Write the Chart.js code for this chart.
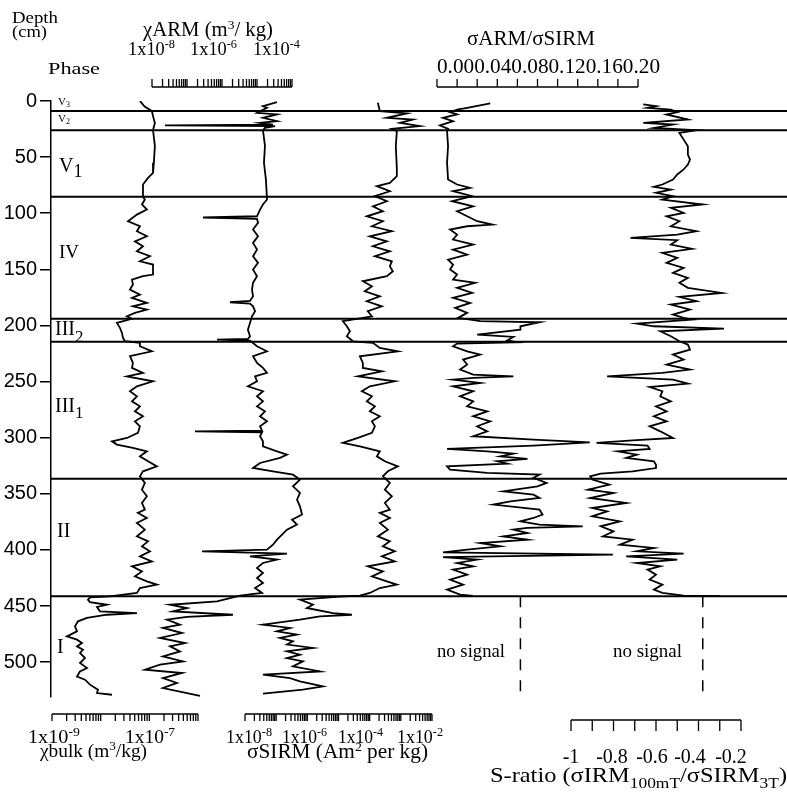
<!DOCTYPE html>
<html>
<head>
<meta charset="utf-8">
<script src="https://cdn.jsdelivr.net/npm/chart.js@4.4.1/dist/chart.umd.min.js"></script>
<style>
  html, body { margin: 0; padding: 0; background: #fff; }
  canvas { display: block; }
</style>
</head>
<body>
<canvas id="chart" width="787" height="795"></canvas>
<script>
// depth in cm, one depth list per measured curve
const bulkDepth = [0, 5, 9, 13.5, 19.5, 26, 40, 55, 64, 68.5, 74.4, 85.4, 87.8, 92.2, 96.7, 101.2, 107.1, 111.6, 116, 120.5, 125, 129.4, 133.9, 138.3, 142.8, 145.7, 154.6, 156.1, 159.1, 163.5, 168, 172.5, 175.4, 179.9, 182.9, 185.8, 188.8, 191.8, 194.1, 197.7, 202.1, 206.6, 211, 214, 215.5, 218.5, 223, 227.4, 233.3, 237.8, 242.2, 245.3, 249.7, 254.2, 258.6, 263.1, 267.6, 272, 276.5, 280.9, 285.4, 289.8, 295.7, 300.2, 303.2, 306.1, 309.1, 312.1, 316.6, 321, 325.5, 329.9, 334.4, 340.3, 346.3, 352.2, 358.1, 364.1, 367, 371.5, 375.9, 381.9, 387.9, 392.3, 396.8, 401.2, 405.7, 410.2, 414.6, 419.1, 423.5, 428, 430.9, 433.9, 438.3, 441.3, 442.2, 444.3, 446.4, 448.8, 450.8, 454.7, 456.2, 457.7, 460.6, 463.6, 468.1, 472.5, 477, 479.9, 482.9, 485.9, 488.9, 491.8, 496.3, 500.7, 505.2, 508.2, 512.7, 515.6, 520, 524.5, 527.5, 529];
// chi bulk, m3/kg
const bulkChi = [6.4e-8, 8e-8, 1.13e-7, 1.19e-7, 1.3e-7, 1.19e-7, 1.3e-7, 1.24e-7, 1.19e-7, 9.4e-8, 7.4e-8, 7.4e-8, 8.1e-8, 7.05e-8, 8.9e-8, 5.56e-8, 3.64e-8, 6.4e-8, 5.56e-8, 8.9e-8, 5.06e-8, 7.4e-8, 5.56e-8, 1.03e-7, 6.4e-8, 1.19e-7, 1.19e-7, 7.4e-8, 4.4e-8, 4.6e-8, 4.0e-8, 6.4e-8, 4.4e-8, 8.9e-8, 4.6e-8, 8.9e-8, 5.06e-8, 3.47e-8, 4.4e-8, 2.16e-8, 2.49e-8, 2.74e-8, 2.87e-8, 3.15e-8, 6.4e-8, 6.4e-8, 1.13e-7, 4.0e-8, 4.6e-8, 4.4e-8, 7.4e-8, 3.47e-8, 1.19e-7, 5.56e-8, 4.0e-8, 5.56e-8, 4.4e-8, 6.4e-8, 5.06e-8, 7.4e-8, 5.06e-8, 6.4e-8, 5.83e-8, 3.47e-8, 1.71e-8, 2.16e-8, 4.6e-8, 8.9e-8, 6.4e-8, 9.4e-8, 1.43e-7, 7.4e-8, 6.4e-8, 8.1e-8, 7.05e-8, 8.9e-8, 7.05e-8, 8.1e-8, 5.83e-8, 8.9e-8, 5.56e-8, 8.1e-8, 5.56e-8, 9.4e-8, 7.05e-8, 1.03e-7, 6.4e-8, 1.13e-7, 4.4e-8, 7.05e-8, 5.06e-8, 8.9e-8, 1.43e-7, 6.4e-8, 5.56e-8, 1.55e-8, 6.03e-9, 5.49e-9, 6.03e-9, 1.35e-8, 8.4e-9, 9.7e-9, 5.56e-8, 1.35e-8, 5.23e-9, 3.42e-9, 2.97e-9, 3.26e-9, 2.03e-9, 3.26e-9, 4.13e-9, 3.26e-9, 4.33e-9, 3.76e-9, 4.76e-9, 3.76e-9, 5.23e-9, 3.76e-9, 3.26e-9, 4.76e-9, 6.03e-9, 8.8e-9, 8.4e-9, 1.71e-8];

const armDepth = [1, 4.6, 6.1, 9.1, 10.5, 12, 15, 18, 19.5, 21, 21.8, 22.4, 23.9, 26, 40, 55, 70, 87.8, 92.2, 96.7, 102.7, 103.8, 105, 108.6, 114.5, 120.5, 126.4, 132.4, 138.3, 144.2, 150.2, 156.1, 162, 168, 173.9, 178.1, 179.3, 180.5, 182.9, 187.3, 191.8, 197.7, 203.7, 209.6, 212, 212.6, 213.5, 218.5, 223, 227.4, 233.3, 237.8, 242.2, 245.3, 249.7, 254.2, 258.6, 263.1, 267.6, 272, 276.5, 280.9, 285.4, 289.8, 293.7, 294.3, 295.2, 298.7, 303.2, 307.7, 312.1, 315.1, 318, 322.5, 326.9, 329.9, 332.9, 337.3, 343.3, 349.2, 355.2, 361.1, 368.5, 373, 377.4, 381.9, 386.4, 390.8, 395.3, 399.7, 401.2, 403.3, 405.7, 408.6, 411.6, 416, 420.5, 425, 429.4, 433.9, 438.3, 440.7, 445.8, 448.8, 451.7, 454.7, 457.7, 459.7, 462.1, 466.6, 469.5, 474, 478.4, 482.9, 485.9, 490.4, 494.8, 499.3, 502.2, 506.7, 509.6, 514.1, 518.5, 523, 527.5, 529.9];
// chi ARM, m3/kg
const armChi = [3.73e-5, 1.48e-5, 1.93e-5, 1.22e-5, 1.0e-5, 3.73e-5, 1.48e-5, 3.73e-5, 1.22e-5, 2.86e-5, 2.35e-8, 3.27e-5, 1.69e-5, 1.48e-5, 1.69e-5, 1.58e-5, 1.8e-5, 1.93e-5, 1.48e-5, 1.22e-5, 1.0e-5, 2.86e-7, 1.0e-5, 1.07e-5, 7.7e-6, 1.07e-5, 7.7e-6, 1.0e-5, 7.7e-6, 1.07e-5, 7.7e-6, 1.0e-5, 7.7e-6, 7.2e-6, 7.7e-6, 6.3e-6, 1.69e-6, 6.3e-6, 7.7e-6, 8.8e-6, 7.2e-6, 6.3e-6, 5.5e-6, 6.3e-6, 5.5e-6, 7.2e-7, 6.3e-6, 1.0e-5, 1.93e-5, 7.7e-6, 1.0e-5, 1.48e-5, 1.93e-5, 8.8e-6, 1.0e-5, 5.5e-6, 1.48e-5, 1.0e-5, 1.48e-5, 1.0e-5, 1.69e-5, 1.22e-5, 1.93e-5, 1.22e-5, 1.39e-5, 1.69e-7, 1.39e-5, 1.22e-5, 1.48e-5, 1.48e-5, 3.73e-5, 7.2e-5, 4.54e-5, 1.22e-5, 7.7e-6, 2.86e-5, 1.07e-4, 1.69e-4, 1.07e-4, 1.69e-4, 1.39e-4, 1.69e-4, 1.93e-4, 1.0e-4, 1.39e-4, 7.2e-5, 5.18e-5, 3.73e-5, 2.86e-5, 1.93e-5, 2.68e-7, 7.2e-5, 6.3e-6, 3.73e-5, 1.48e-5, 1.0e-5, 1.48e-5, 1.0e-5, 1.48e-5, 8.8e-6, 1.39e-5, 3.27e-6, 7.2e-7, 3.27e-8, 1.0e-7, 3.98e-8, 2.06e-6, 1.0e-7, 2.68e-8, 6.3e-8, 2.06e-8, 7.2e-8, 1.69e-8, 8.8e-8, 3.27e-8, 6.3e-8, 2.06e-8, 7.7e-8, 1.69e-8, 6.3e-9, 7.2e-8, 2.06e-8, 5.18e-8, 2.06e-8, 1.0e-7, 2.35e-7];

const sirmDepth = [1.6, 9.1, 11.1, 15, 16.5, 19.5, 22.4, 24.8, 26.9, 40, 60, 67, 72.9, 75.9, 80.4, 84.8, 89.3, 93.8, 98.2, 102.7, 107.1, 111.6, 116, 120.5, 125, 129.4, 133.9, 138.3, 142.8, 147.2, 151.7, 156.1, 160.6, 165.1, 169.5, 174, 178.4, 182.9, 187.3, 191.8, 193.2, 196.2, 200.7, 205.2, 209.6, 214.1, 215.5, 220, 223, 227.4, 233.3, 237.8, 240.8, 245.3, 249.7, 254.2, 258.6, 263.1, 267.6, 272, 276.5, 280.9, 285.4, 289.8, 295.7, 300.2, 304.6, 307.7, 312.1, 316.6, 321, 325.5, 329.9, 334.4, 340.3, 346.3, 352.2, 358.1, 364.1, 367, 371.5, 375.9, 381.9, 387.9, 392.3, 396.8, 401.2, 405.7, 410.2, 414.6, 419.1, 423.5, 428, 430.9, 433.9, 438.3, 440.7, 441.5, 444.3, 448.8, 451.7, 456.2, 457.7, 459.1, 462.1, 466.6, 469.5, 472.5, 475.4, 478.4, 481.4, 484.3, 487.3, 490.3, 493.3, 496.3, 499.3, 503.7, 508.2, 511.1, 514.1, 517.1, 521.5, 524.5, 528];
// sigma SIRM, Am2 per kg
const sirmValue = [1.83e-4, 2.12e-4, 1.56e-3, 3.56e-4, 2.43e-3, 9.3e-4, 4.06e-3, 5.15e-4, 7.45e-4, 6.9e-4, 7.45e-4, 7.45e-4, 4.44e-4, 1.7e-4, 4.44e-4, 1.47e-4, 3.56e-4, 1.27e-4, 2.65e-4, 8.1e-5, 2.65e-4, 1.18e-4, 5.15e-4, 1.01e-4, 3.56e-4, 1.27e-4, 4.44e-4, 1.47e-4, 5.15e-4, 4.44e-4, 5.54e-4, 3.56e-4, 6.05e-5, 1.18e-4, 7.0e-5, 2.12e-4, 8.1e-5, 2.46e-4, 8.7e-5, 1.18e-4, 6.05e-5, 1.38e-5, 1.86e-5, 2.32e-5, 1.86e-5, 2.9e-5, 1.27e-4, 2.12e-4, 8.0e-4, 4.85e-5, 6.05e-5, 6.05e-5, 2.46e-4, 4.19e-5, 6.43e-4, 1.01e-4, 5.62e-5, 1.18e-4, 8.1e-5, 1.47e-4, 1.01e-4, 2.12e-4, 1.18e-4, 1.47e-4, 1.18e-4, 4.19e-5, 1.38e-5, 4.85e-5, 2.12e-4, 1.7e-4, 3.07e-4, 8.0e-4, 3.83e-4, 2.65e-4, 4.44e-4, 3.07e-4, 5.15e-4, 3.07e-4, 4.44e-4, 2.12e-4, 4.44e-4, 2.12e-4, 3.83e-4, 1.83e-4, 4.44e-4, 2.65e-4, 6.43e-4, 2.46e-4, 6.43e-4, 8.7e-5, 2.65e-4, 1.18e-4, 3.56e-4, 7.45e-4, 2.12e-4, 1.01e-4, 4.85e-5, 1.11e-5, 5.79e-7, 1.51e-6, 9.7e-7, 6.6e-6, 2.69e-5, 2.53e-6, 5.79e-7, 3.78e-8, 2.77e-7, 1.06e-7, 4.64e-7, 1.32e-7, 3.45e-7, 2.22e-7, 1.51e-6, 2.22e-7, 5.79e-7, 2.22e-7, 7.2e-7, 3.45e-7, 2.53e-6, 3.78e-8, 2.77e-7, 5.79e-7, 3.16e-6, 7.2e-7, 3.78e-8];

const ratioDepth = [2.2, 6.1, 7.6, 10, 12, 15, 18, 21.8, 24.8, 26.9, 40, 55, 70, 74.4, 77.4, 80.4, 84.8, 89.3, 93.8, 98.2, 102.7, 107.1, 110.1, 111.6, 114.5, 119, 123.4, 127.9, 132.4, 136.8, 141.3, 145.7, 150.2, 154.6, 159.1, 162, 166.5, 170.9, 175.4, 179.9, 184.3, 188.8, 193.2, 196.2, 197.1, 200.7, 203.7, 208.1, 210.2, 213.2, 215, 216.1, 218.5, 223, 225.9, 230.4, 234.8, 239.3, 243.8, 245.3, 246.7, 248.2, 251.2, 254.2, 258.6, 263.1, 267.6, 272, 276.5, 280.9, 285.4, 289.8, 294.3, 298.7, 301.7, 304.1, 307, 310, 312.1, 314.2, 316.6, 318.9, 321, 323.1, 325.5, 328.4, 331.4, 332.9, 335.8, 340.3, 343.3, 347.8, 350.7, 353.7, 356.7, 359.6, 364.1, 368.5, 371.5, 374.5, 377.4, 378.9, 380.4, 381.9, 384.9, 387.9, 390.8, 393.8, 396.8, 399.7, 402.1, 404.2, 406.3, 408.6, 411.6, 414.6, 417.5, 422, 426.4, 430.9, 435.4, 439.8, 441];
// sigma ARM / sigma SIRM
const ratioValue = [0.053, 0.030, 0.020, 0.013, 0.020, 0.006, 0.016, 0.003, 0.011, 0.010, 0.011, 0.010, 0.011, 0.020, 0.033, 0.016, 0.035, 0.015, 0.036, 0.020, 0.030, 0.040, 0.055, 0.030, 0.013, 0.020, 0.016, 0.036, 0.016, 0.030, 0.011, 0.016, 0.013, 0.020, 0.016, 0.038, 0.020, 0.035, 0.016, 0.033, 0.018, 0.030, 0.021, 0.043, 0.102, 0.083, 0.083, 0.040, 0.076, 0.070, 0.080, 0.020, 0.016, 0.030, 0.043, 0.026, 0.030, 0.023, 0.036, 0.076, 0.036, 0.016, 0.043, 0.016, 0.036, 0.023, 0.036, 0.030, 0.050, 0.036, 0.053, 0.040, 0.050, 0.036, 0.096, 0.152, 0.096, 0.010, 0.050, 0.076, 0.063, 0.090, 0.060, 0.070, 0.010, 0.013, 0.050, 0.102, 0.096, 0.109, 0.100, 0.066, 0.096, 0.102, 0.073, 0.056, 0.102, 0.105, 0.096, 0.083, 0.102, 0.145, 0.090, 0.076, 0.090, 0.066, 0.090, 0.043, 0.063, 0.030, 0.006, 0.175, 0.006, 0.040, 0.020, 0.036, 0.016, 0.030, 0.013, 0.026, 0.010, 0.023, 0.036];

const sDepth = [3, 4.6, 6.1, 7.6, 10, 12, 16.5, 19.5, 21, 24, 26, 28.4, 34.4, 40.3, 47.7, 52.2, 56.6, 61, 65.5, 70, 74.4, 76.5, 78.9, 81.8, 84.8, 87.8, 92.2, 95.2, 99.7, 102.7, 107.1, 111.6, 116, 119, 121.9, 124, 127.9, 131.8, 135.4, 139.8, 144.2, 148.7, 153.1, 157.6, 162, 166.5, 171, 174.5, 178.4, 181.4, 185.8, 190.3, 193.2, 194.7, 198.3, 200.7, 202.8, 205.2, 209.6, 214.1, 217, 221.5, 225.9, 230.4, 234.8, 239.3, 242.3, 245.3, 248.2, 251.8, 254.8, 258.6, 263.1, 267.6, 272, 276.5, 280.9, 285.4, 289.8, 294.3, 300.2, 302.3, 304.6, 307, 310, 312.1, 315.1, 318, 321, 324, 327, 329.9, 332, 334.4, 337.3, 341.8, 346.3, 349.2, 353.7, 358.1, 362.6, 365.6, 370, 374.5, 378.9, 383.4, 387.9, 390.8, 395.3, 398.2, 401.2, 403.3, 405.7, 408.6, 411.6, 414.6, 417.5, 422, 426.4, 430.9, 435.4, 438.3, 440.7, 441.2];
// S-ratio (sigma IRM 100mT / sigma SIRM 3T)
const sValue = [-0.66, -0.60, -0.64, -0.53, -0.50, -0.55, -0.45, -0.66, -0.52, -0.61, -0.41, -0.49, -0.47, -0.45, -0.45, -0.44, -0.45, -0.47, -0.50, -0.52, -0.57, -0.61, -0.53, -0.60, -0.52, -0.57, -0.38, -0.53, -0.47, -0.55, -0.49, -0.53, -0.41, -0.50, -0.72, -0.50, -0.53, -0.43, -0.57, -0.50, -0.55, -0.47, -0.52, -0.45, -0.49, -0.45, -0.29, -0.49, -0.41, -0.53, -0.44, -0.52, -0.47, -0.43, -0.69, -0.61, -0.28, -0.58, -0.53, -0.49, -0.45, -0.44, -0.52, -0.47, -0.55, -0.44, -0.57, -0.83, -0.52, -0.45, -0.63, -0.57, -0.58, -0.53, -0.60, -0.55, -0.61, -0.55, -0.63, -0.58, -0.52, -0.71, -0.88, -0.64, -0.63, -0.78, -0.69, -0.74, -0.61, -0.60, -0.60, -0.71, -0.86, -0.91, -0.90, -0.82, -0.92, -0.80, -0.91, -0.74, -0.90, -0.83, -0.90, -0.77, -0.86, -0.80, -0.85, -0.71, -0.77, -0.61, -0.69, -0.47, -0.74, -0.50, -0.69, -0.58, -0.64, -0.60, -0.63, -0.57, -0.61, -0.57, -0.47, -0.30];

// phase boundaries (cm) and the "no signal" markers below phase II
const phaseDepths = [9, 26, 85.4, 194, 214.6, 336.5, 441.3];
const noSignalDepth = [441.3, 531];
const noSignalRatio = [0.083, 0.083];
const noSignalS = [-0.38, -0.38];

// depth axis ticks
const depthMax = 531;
const depthStep = 50;

// the plot area runs from x=51 to x=787; each track is calibrated on its printed axis
const AREA_LEFT = 51, AREA_RIGHT = 787;

function logAxis(v1, px1, v2, px2) {
    let perDecade = (px2 - px1) / (Math.log10(v2) - Math.log10(v1));
    return {
        type: "logarithmic", display: false, bounds: "data",
        min: Math.pow(10, Math.log10(v1) - (px1 - AREA_LEFT) / perDecade),
        max: Math.pow(10, Math.log10(v1) + (AREA_RIGHT - px1) / perDecade)
    };
}

function linAxis(v1, px1, v2, px2) {
    let perUnit = (px2 - px1) / (v2 - v1);
    return {
        type: "linear", display: false, bounds: "data",
        min: v1 - (px1 - AREA_LEFT) / perUnit,
        max: v1 + (AREA_RIGHT - px1) / perUnit
    };
}

function series(depths, values, axisId, dash) {
    return {
        data: depths.map((d, i) => ({ x: values[i], y: d })),
        xAxisID: axisId,
        showLine: true,
        borderColor: "#000",
        borderWidth: dash ? 1.5 : 1.8,
        borderDash: dash || [],
        pointRadius: 0,
        fill: false,
        tension: 0
    };
}

const SERIF = '"Liberation Serif", "Times New Roman", serif';

// draws text made of pieces [text, size, dy], optionally squeezed to a width
function rich(ctx, x, y, parts, width, align) {
    let total = 0;
    parts.forEach(p => {
        ctx.font = p[1] + "px " + SERIF;
        total += ctx.measureText(p[0]).width;
    });
    let sx = width ? width / total : 1;
    let w = total * sx;
    let start = x;
    if (align === "center") start = x - w / 2;
    ctx.save();
    ctx.translate(start, y);
    ctx.scale(sx, 1);
    let cx = 0;
    parts.forEach(p => {
        ctx.font = p[1] + "px " + SERIF;
        ctx.textAlign = "left";
        ctx.textBaseline = "alphabetic";
        ctx.fillText(p[0], cx, p[2] || 0);
        cx += ctx.measureText(p[0]).width;
    });
    ctx.restore();
}

function seg(ctx, x1, y1, x2, y2) {
    ctx.beginPath();
    ctx.moveTo(x1, y1);
    ctx.lineTo(x2, y2);
    ctx.stroke();
}

function logBar(ctx, scale, e0, e1, yBase, len) {
    let xa = scale.getPixelForValue(Math.pow(10, e0));
    let xb = scale.getPixelForValue(Math.pow(10, e1));
    seg(ctx, xa, yBase, xb, yBase);
    for (let e = e0; e < e1; e++) {
        for (let m = 1; m <= 9; m++) {
            let px = scale.getPixelForValue(m * Math.pow(10, e));
            seg(ctx, px, yBase, px, yBase + len);
        }
    }
    seg(ctx, xb, yBase, xb, yBase + len);
}

function linBar(ctx, scale, a, b, step, yBase, len) {
    let n = Math.round((b - a) / step);
    seg(ctx, scale.getPixelForValue(a), yBase, scale.getPixelForValue(b), yBase);
    for (let i = 0; i <= n; i++) {
        let px = scale.getPixelForValue(a + i * step);
        seg(ctx, px, yBase, px, yBase + len);
    }
}

const decorPlugin = {
    id: "decor",
    afterDraw(chart) {
        let ctx = chart.ctx;
        let area = chart.chartArea;
        let y = chart.scales.y;
        ctx.save();
        ctx.strokeStyle = "#000";
        ctx.fillStyle = "#000";

        // phase boundaries
        ctx.lineWidth = 2;
        phaseDepths.forEach(d => {
            let py = y.getPixelForValue(d);
            seg(ctx, area.left, py, area.right, py);
        });

        // phase names
        rich(ctx, 58, 105, [["V", 11], ["3", 8, 2]]);
        rich(ctx, 58, 122, [["V", 11], ["2", 8, 2]]);
        rich(ctx, 59, 172, [["V", 20], ["1", 18, 5]]);
        rich(ctx, 59, 258, [["IV", 19]]);
        rich(ctx, 55, 335, [["III", 20], ["2", 17, 7]]);
        rich(ctx, 55, 412, [["III", 20], ["1", 17, 6]]);
        rich(ctx, 57, 537, [["II", 20]]);
        rich(ctx, 57, 653, [["I", 20]]);

        // header
        rich(ctx, 12, 23, [["Depth", 17]], 46);
        rich(ctx, 12, 37, [["(cm)", 17]], 35);
        rich(ctx, 48, 74, [["Phase", 17]], 52);
        rich(ctx, 143, 36, [["\u03C7ARM (m", 20], ["3", 13, -7], ["/ kg)", 20]], 130);
        rich(ctx, 128, 55, [["1x10", 18], ["-8", 12, -7]], 47);
        rich(ctx, 190, 55, [["1x10", 18], ["-6", 12, -7]], 47);
        rich(ctx, 253, 55, [["1x10", 18], ["-4", 12, -7]], 47);
        rich(ctx, 467, 45, [["\u03C3ARM/\u03C3SIRM", 20]], 128);
        rich(ctx, 437, 73, [["0.000.040.080.120.160.20", 21]], 223);

        // axis bars
        ctx.lineWidth = 1.3;
        logBar(ctx, chart.scales.xArm, -8, -4, 87, -8);
        linBar(ctx, chart.scales.xRatio, 0, 0.2, 0.02, 87, -8);
        logBar(ctx, chart.scales.xBulk, -9, -6, 714, 7);
        logBar(ctx, chart.scales.xSirm, -8, -2, 714, 7);
        linBar(ctx, chart.scales.xS, -1, -0.2, 0.1, 720, 11);

        // bottom axis labels
        rich(ctx, 28, 743, [["1x10", 19], ["-9", 13, -7]], 52);
        rich(ctx, 125, 743, [["1x10", 19], ["-7", 13, -7]], 50);
        rich(ctx, 40, 757, [["\u03C7bulk (m", 19], ["3", 13, -7], ["/kg)", 19]], 107);
        rich(ctx, 226, 743, [["1x10", 19], ["-8", 13, -7]], 46);
        rich(ctx, 282, 743, [["1x10", 19], ["-6", 13, -7]], 45);
        rich(ctx, 338, 743, [["1x10", 19], ["-4", 13, -7]], 45);
        rich(ctx, 397, 743, [["1x10", 19], ["-2", 13, -7]], 46);
        rich(ctx, 247, 758, [["\u03C3SIRM (Am", 20], ["2", 13, -7], [" per kg)", 20]], 181);
        rich(ctx, 571, 763, [["-1", 20]], null, "center");
        rich(ctx, 612, 763, [["-0.8", 20]], null, "center");
        rich(ctx, 652, 763, [["-0.6", 20]], null, "center");
        rich(ctx, 690, 763, [["-0.4", 20]], null, "center");
        rich(ctx, 731, 763, [["-0.2", 20]], null, "center");
        rich(ctx, 490, 782, [["S-ratio (\u03C3IRM", 21], ["100mT", 15, 6], ["/\u03C3SIRM", 21], ["3T", 15, 6], [")", 21]], 297);

        rich(ctx, 437, 657, [["no signal", 18]], 68);
        rich(ctx, 613, 657, [["no signal", 18]], 69);
        ctx.restore();
    }
};

new Chart(document.getElementById("chart"), {
    type: "scatter",
    data: {
        datasets: [
            series(bulkDepth, bulkChi, "xBulk"),
            series(armDepth, armChi, "xArm"),
            series(sirmDepth, sirmValue, "xSirm"),
            series(ratioDepth, ratioValue, "xRatio"),
            series(sDepth, sValue, "xS"),
            series(noSignalDepth, noSignalRatio, "xRatio", [11, 10]),
            series(noSignalDepth, noSignalS, "xS", [11, 10])
        ]
    },
    options: {
        responsive: false,
        animation: false,
        devicePixelRatio: 1,
        layout: { padding: { top: 101, bottom: 98, left: 0, right: 0 } },
        plugins: { legend: { display: false }, tooltip: { enabled: false } },
        scales: {
            xBulk: logAxis(1e-9, 52, 1e-6, 198),
            xArm: logAxis(1e-8, 152, 1e-4, 292),
            xSirm: logAxis(1e-8, 245, 1e-2, 432),
            xRatio: linAxis(0, 437, 0.2, 638),
            xS: linAxis(-1, 571, -0.2, 741),
            y: {
                type: "linear",
                position: "left",
                reverse: true,
                min: 0,
                max: depthMax,
                afterFit: s => { s.width = AREA_LEFT; },
                ticks: {
                    stepSize: depthStep,
                    includeBounds: false,
                    color: "#000",
                    padding: 3,
                    font: { family: '"Liberation Sans", Arial, sans-serif', size: 20 }
                },
                grid: { drawOnChartArea: false, drawTicks: true, tickLength: 11, color: "#000", lineWidth: 1.5 },
                border: { display: true, color: "#000", width: 1.5 }
            }
        }
    },
    plugins: [decorPlugin]
});
</script>
</body>
</html>
